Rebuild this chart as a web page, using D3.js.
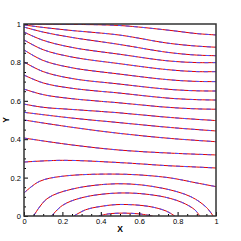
<!DOCTYPE html>
<html>
<head>
<meta charset="utf-8">
<script src="https://cdn.jsdelivr.net/npm/d3@7"></script>
<style>
  body { margin: 0; background: #fff; }
  svg { display: block; font-family: "Liberation Sans", Arial, sans-serif; }
</style>
</head>
<body>
<div id="vis"></div>
<script>
// contour lines, each a list of [x, y] points

// lines that run from the left edge (or top) to the right edge
const upperLines = [
  [[0.03,1],[0.25,0.998],[0.5,0.992],[0.75,0.968],[0.9,0.95],[1,0.943]],
  [[0,0.995],[0.1,0.982],[0.25,0.966],[0.5,0.942],[0.75,0.9],[0.9,0.885],[1,0.879]],
  [[0,0.984],[0.1,0.958],[0.25,0.93],[0.5,0.893],[0.75,0.852],[0.9,0.838],[1,0.835]],
  [[0,0.958],[0.1,0.915],[0.25,0.878],[0.5,0.842],[0.75,0.808],[0.9,0.799],[1,0.799]],
  [[0,0.917],[0.1,0.866],[0.25,0.828],[0.5,0.793],[0.75,0.762],[0.9,0.752],[1,0.752]],
  [[0,0.865],[0.1,0.81],[0.25,0.772],[0.5,0.739],[0.75,0.71],[0.9,0.701],[1,0.70]],
  [[0,0.802],[0.1,0.752],[0.25,0.716],[0.5,0.687],[0.75,0.66],[0.9,0.652],[1,0.651]],
  [[0,0.734],[0.1,0.693],[0.25,0.665],[0.5,0.64],[0.75,0.614],[0.9,0.606],[1,0.604]],
  [[0,0.661],[0.1,0.632],[0.25,0.611],[0.5,0.589],[0.75,0.566],[0.9,0.558],[1,0.556]],
  [[0,0.583],[0.1,0.566],[0.25,0.555],[0.5,0.537],[0.75,0.514],[1,0.497]],
  [[0,0.54],[0.25,0.51],[0.5,0.486],[0.75,0.462],[1,0.443]],
  [[0,0.5],[0.25,0.462],[0.5,0.43],[0.75,0.405],[1,0.387]]
];

// lower lines that flatten out in the middle and bend down on the right
const lowerLines = [
  [[0,0.406],[0.25,0.37],[0.5,0.343],[0.75,0.328],[1,0.318]],
  [[0,0.281],[0.2,0.29],[0.5,0.278],[0.75,0.262],[0.9,0.255],[1,0.25]],
  [[0,0.12],[0.08,0.18],[0.2,0.207],[0.5,0.218],[0.75,0.2],[0.9,0.172],[1,0.153]],
  [[0.05,0],[0.12,0.09],[0.25,0.14],[0.5,0.168],[0.72,0.145],[0.87,0.1],[0.95,0.045],[0.985,0]]
];

// arcs that start and end on the bottom edge
const bottomArcs = [
  [[0.144,0],[0.2,0.055],[0.3,0.095],[0.5,0.12],[0.7,0.105],[0.82,0.072],[0.89,0.032],[0.915,0]],
  [[0.26,0],[0.32,0.032],[0.4,0.05],[0.5,0.06],[0.65,0.05],[0.74,0.026],[0.785,0]],
  [[0.39,0],[0.44,0.011],[0.52,0.015],[0.6,0.011],[0.67,0]]
];

const majorTicks = [0, 0.2, 0.4, 0.6, 0.8, 1];
const minorTicks = [0.05,0.1,0.15,0.25,0.3,0.35,0.45,0.5,0.55,0.65,0.7,0.75,0.85,0.9,0.95];

const FRAME_WIDTH = 241;
const FRAME_HEIGHT = 241;
const MARGINS = {left: 24, right: 25, top: 24, bottom: 25};
const VIS_WIDTH = FRAME_WIDTH - MARGINS.left - MARGINS.right;
const VIS_HEIGHT = FRAME_HEIGHT - MARGINS.top - MARGINS.bottom;

const svg = d3.select("#vis")
  .append("svg")
    .attr("width", FRAME_WIDTH)
    .attr("height", FRAME_HEIGHT);

const X_SCALE = d3.scaleLinear().domain([0, 1]).range([MARGINS.left, MARGINS.left + VIS_WIDTH]);
const Y_SCALE = d3.scaleLinear().domain([0, 1]).range([MARGINS.top + VIS_HEIGHT, MARGINS.top]);

svg.append("clipPath").attr("id", "clip")
  .append("rect")
    .attr("x", MARGINS.left).attr("y", MARGINS.top)
    .attr("width", VIS_WIDTH).attr("height", VIS_HEIGHT);

const line = d3.line()
  .x(d => X_SCALE(d[0]))
  .y(d => Y_SCALE(d[1]))
  .curve(d3.curveCatmullRom.alpha(0.5));

const allLines = upperLines.concat(lowerLines, bottomArcs);

const plot = svg.append("g").attr("clip-path", "url(#clip)");

// red solid lines
plot.selectAll(".red")
  .data(allLines)
  .enter()
  .append("path")
    .attr("class", "red")
    .attr("d", line)
    .attr("fill", "none")
    .attr("stroke", "#e00000")
    .attr("stroke-width", 1);

// blue dashed lines on top
plot.selectAll(".blue")
  .data(allLines)
  .enter()
  .append("path")
    .attr("class", "blue")
    .attr("d", line)
    .attr("fill", "none")
    .attr("stroke", "#5050ff")
    .attr("stroke-width", 1)
    .attr("stroke-dasharray", "4,4");

// axes with ticks pointing inside
const fmt = d3.format("~g");

svg.append("g")
  .attr("transform", "translate(0," + (MARGINS.top + VIS_HEIGHT) + ")")
  .call(d3.axisBottom(X_SCALE).tickValues(minorTicks).tickSize(-2).tickFormat(""))
  .call(g => g.select(".domain").remove());

svg.append("g")
  .attr("transform", "translate(" + MARGINS.left + ",0)")
  .call(d3.axisLeft(Y_SCALE).tickValues(minorTicks).tickSize(-2).tickFormat(""))
  .call(g => g.select(".domain").remove());

svg.append("g")
  .attr("transform", "translate(0," + (MARGINS.top + VIS_HEIGHT) + ")")
  .call(d3.axisBottom(X_SCALE).tickValues(majorTicks).tickSize(-4).tickPadding(3).tickFormat(fmt))
  .attr("font-size", "7.5px")
  .attr("font-family", "Liberation Sans, Arial, sans-serif")
  .call(g => g.select(".domain").remove());

svg.append("g")
  .attr("transform", "translate(" + MARGINS.left + ",0)")
  .call(d3.axisLeft(Y_SCALE).tickValues(majorTicks).tickSize(-4).tickPadding(3).tickFormat(fmt))
  .attr("font-size", "7.5px")
  .attr("font-family", "Liberation Sans, Arial, sans-serif")
  .call(g => g.select(".domain").remove());

// frame
svg.append("rect")
  .attr("x", MARGINS.left).attr("y", MARGINS.top)
  .attr("width", VIS_WIDTH).attr("height", VIS_HEIGHT)
  .attr("fill", "none")
  .attr("stroke", "#333")
  .attr("stroke-width", 1.5);

// axis titles
svg.append("text")
  .attr("x", MARGINS.left + VIS_WIDTH / 2)
  .attr("y", 232)
  .attr("text-anchor", "middle")
  .attr("font-size", "8.5px")
  .attr("font-weight", "bold")
  .text("X");

svg.append("text")
  .attr("transform", "translate(9," + (MARGINS.top + VIS_HEIGHT / 2) + ") rotate(-90)")
  .attr("text-anchor", "middle")
  .attr("font-size", "8.5px")
  .attr("font-weight", "bold")
  .text("Y");
</script>
</body>
</html>
